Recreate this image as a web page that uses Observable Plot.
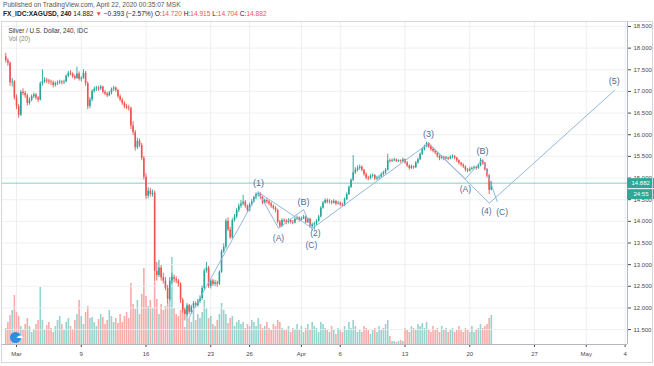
<!DOCTYPE html>
<html><head><meta charset="utf-8">
<script src="https://cdn.jsdelivr.net/npm/d3@7"></script>
<script src="https://cdn.jsdelivr.net/npm/@observablehq/plot@0.6"></script>
<style>
body{margin:0;width:654px;height:366px;overflow:hidden;background:#fff;font-family:"Liberation Sans",Arial,sans-serif;position:relative}
.hdr{position:absolute;left:3px;font-size:6.6px;white-space:nowrap}
#vol,#main{position:absolute;left:0;top:21px}
#box{position:absolute;left:1px;top:21px;width:650px;height:340px;border:1px solid #d4d6da;pointer-events:none}
</style></head>
<body>
<div class="hdr" style="top:1px;color:#555">Published on TradingView.com, April 22, 2020 00:35:07 MSK</div>
<div class="hdr" id="quote" style="top:10px;color:#222"></div>
<div id="vol"></div><div id="main"></div><div id="box"></div>
<script>
// ---- data ----
const candles = [ // [open, high, low, close], 4h bars
[17.80,17.88,17.66,17.71],[17.71,17.76,17.58,17.65],[17.65,17.68,17.12,17.20],[17.20,17.30,17.10,17.22],[17.22,17.25,16.80,16.85],
[16.85,16.92,16.58,16.65],[16.65,16.70,16.38,16.45],[16.45,17.02,16.42,16.98],[16.98,17.06,16.90,16.95],[16.95,17.00,16.84,16.90],
[16.90,16.94,16.66,16.72],[16.72,16.85,16.68,16.80],[16.80,16.92,16.76,16.88],[16.88,16.96,16.84,16.92],[16.92,16.95,16.80,16.85],
[16.85,16.88,16.74,16.80],[16.80,17.22,16.78,17.18],[17.18,17.50,17.12,17.22],[17.22,17.32,17.18,17.26],[17.26,17.30,17.18,17.24],
[17.24,17.28,17.16,17.22],[17.22,17.26,17.14,17.20],[17.20,17.24,17.08,17.14],[17.14,17.22,17.10,17.18],[17.18,17.24,17.14,17.20],
[17.20,17.26,17.16,17.22],[17.22,17.25,17.15,17.20],[17.20,17.26,17.16,17.22],[17.22,17.38,17.20,17.35],[17.35,17.46,17.32,17.42],
[17.42,17.48,17.36,17.40],[17.40,17.43,17.30,17.34],[17.34,17.38,17.26,17.30],[17.30,17.56,17.28,17.40],[17.40,17.45,17.24,17.28],
[17.28,17.34,17.22,17.30],[17.30,17.50,17.28,17.42],[17.42,17.46,17.12,17.18],[17.18,17.22,16.58,16.65],[16.65,16.86,16.60,16.80],
[16.80,17.04,16.76,17.00],[17.00,17.10,16.96,17.05],[17.05,17.12,17.00,17.08],[17.08,17.12,17.00,17.06],[17.06,17.14,17.02,17.10],
[17.10,17.12,16.94,16.98],[16.98,17.02,16.90,16.94],[16.94,16.98,16.86,16.90],[16.90,17.00,16.88,16.96],[16.96,17.08,16.92,17.05],
[17.05,17.12,17.00,17.08],[17.08,17.10,16.98,17.02],[17.02,17.05,16.84,16.88],[16.88,16.92,16.76,16.80],[16.80,16.84,16.68,16.72],
[16.72,16.76,16.60,16.65],[16.65,16.70,16.58,16.62],[16.62,16.68,16.55,16.60],[16.60,16.64,16.12,16.20],[16.20,16.30,15.98,16.05],
[16.05,16.10,15.62,15.70],[15.70,15.92,15.66,15.85],[15.85,15.90,15.70,15.75],[15.75,15.80,15.40,15.45],[15.45,15.50,14.95,15.02],
[15.02,15.10,14.50,14.58],[14.58,14.78,14.52,14.70],[14.70,14.76,14.56,14.62],[14.62,14.72,14.56,14.65],[14.65,14.70,12.60,12.85],
[12.85,13.05,12.62,12.75],[12.75,13.10,12.70,12.92],[12.92,12.98,12.62,12.70],[12.70,12.80,12.55,12.62],[12.62,12.70,12.40,12.45],
[12.45,12.52,12.10,12.20],[12.20,12.70,12.15,12.62],[12.62,12.80,12.55,12.70],[12.70,12.76,12.58,12.66],[12.66,12.72,12.56,12.62],
[12.62,12.66,12.48,12.55],[12.55,12.58,12.10,12.18],[12.18,12.22,11.88,11.95],[11.95,12.00,11.70,11.85],[11.85,12.10,11.80,12.05],
[12.05,12.08,11.84,11.90],[11.90,12.06,11.86,12.02],[12.02,12.15,11.98,12.10],[12.10,12.14,12.00,12.05],[12.05,12.20,12.02,12.15],
[12.15,12.28,12.10,12.22],[12.22,12.50,12.18,12.45],[12.45,12.90,12.40,12.85],[12.85,13.05,12.80,12.92],[12.92,12.96,12.45,12.50],
[12.50,12.66,12.44,12.62],[12.62,12.66,12.50,12.55],[12.55,12.64,12.50,12.58],[12.58,12.62,12.48,12.55],[12.55,12.86,12.52,12.82],
[12.82,13.34,12.80,13.30],[13.30,13.48,13.26,13.40],[13.40,14.05,13.36,14.00],[14.00,14.08,13.76,13.80],[13.80,13.86,13.58,13.62],
[13.62,14.06,13.60,14.02],[14.02,14.16,13.98,14.10],[14.10,14.30,14.06,14.25],[14.25,14.40,14.20,14.35],[14.35,14.48,14.30,14.40],
[14.40,14.60,14.36,14.44],[14.44,14.48,14.30,14.35],[14.35,14.38,14.20,14.25],[14.25,14.42,14.22,14.38],[14.38,14.50,14.34,14.45],
[14.45,14.58,14.42,14.55],[14.55,14.66,14.50,14.62],[14.62,14.68,14.56,14.64],[14.64,14.66,14.50,14.55],[14.55,14.58,14.38,14.42],
[14.42,14.52,14.40,14.48],[14.48,14.52,14.40,14.45],[14.45,14.48,14.36,14.40],[14.40,14.44,14.30,14.35],[14.35,14.38,14.26,14.30],
[14.30,14.34,14.20,14.25],[14.25,14.28,13.94,13.98],[13.98,14.02,13.84,13.88],[13.88,14.06,13.86,14.02],[14.02,14.06,13.96,14.00],
[14.00,14.04,13.92,13.97],[13.97,14.06,13.94,14.02],[14.02,14.05,13.94,13.98],[13.98,14.02,13.92,13.96],[13.96,14.08,13.94,14.05],
[14.05,14.12,14.02,14.08],[14.08,14.10,13.98,14.02],[14.02,14.10,14.00,14.06],[14.06,14.14,14.04,14.10],[14.10,14.12,13.94,13.97],
[13.97,14.08,13.95,14.05],[14.05,14.07,13.84,13.88],[13.88,13.96,13.84,13.92],[13.92,13.98,13.80,13.94],[13.94,14.04,13.90,14.00],
[14.00,14.14,13.98,14.10],[14.10,14.34,14.08,14.30],[14.30,14.46,14.28,14.42],[14.42,14.52,14.40,14.48],[14.48,14.52,14.40,14.44],
[14.44,14.50,14.40,14.45],[14.45,14.48,14.38,14.42],[14.42,14.50,14.40,14.46],[14.46,14.48,14.36,14.40],[14.40,14.46,14.38,14.42],
[14.42,14.45,14.34,14.38],[14.38,14.42,14.32,14.36],[14.36,14.54,14.34,14.50],[14.50,14.66,14.48,14.62],[14.62,14.82,14.60,14.78],
[14.78,14.98,14.76,14.95],[14.95,15.52,14.92,15.12],[15.12,15.24,15.08,15.18],[15.18,15.28,15.14,15.22],[15.22,15.30,15.18,15.25],
[15.25,15.28,15.14,15.18],[15.18,15.20,15.04,15.08],[15.08,15.12,14.96,15.00],[15.00,15.04,14.94,14.98],[14.98,15.08,14.96,15.04],
[15.04,15.10,15.00,15.06],[15.06,15.08,14.94,14.98],[14.98,15.04,14.94,15.00],[15.00,15.06,14.96,15.02],[15.02,15.12,15.00,15.08],
[15.08,15.16,15.04,15.12],[15.12,15.22,15.08,15.18],[15.18,15.55,15.16,15.40],[15.40,15.44,15.34,15.38],[15.38,15.44,15.36,15.40],
[15.40,15.46,15.38,15.42],[15.42,15.44,15.36,15.38],[15.38,15.42,15.36,15.40],[15.40,15.42,15.34,15.38],[15.38,15.46,15.36,15.42],
[15.42,15.44,15.32,15.35],[15.35,15.38,15.24,15.28],[15.28,15.30,15.18,15.22],[15.22,15.30,15.20,15.26],[15.26,15.28,15.20,15.24],
[15.24,15.38,15.22,15.35],[15.35,15.46,15.32,15.42],[15.42,15.58,15.40,15.55],[15.55,15.70,15.52,15.66],[15.66,15.76,15.62,15.72],
[15.72,15.83,15.70,15.80],[15.80,15.82,15.68,15.72],[15.72,15.76,15.62,15.66],[15.66,15.70,15.58,15.62],[15.62,15.65,15.54,15.58],
[15.58,15.60,15.46,15.50],[15.50,15.54,15.40,15.45],[15.45,15.52,15.42,15.48],[15.48,15.50,15.40,15.44],[15.44,15.50,15.42,15.46],
[15.46,15.48,15.40,15.44],[15.44,15.52,15.42,15.48],[15.48,15.54,15.44,15.50],[15.50,15.52,15.42,15.46],[15.46,15.48,15.36,15.40],
[15.40,15.42,15.30,15.34],[15.34,15.36,15.26,15.30],[15.30,15.33,15.22,15.26],[15.26,15.28,15.14,15.18],[15.18,15.22,15.12,15.16],
[15.16,15.24,15.14,15.20],[15.20,15.26,15.18,15.22],[15.22,15.28,15.20,15.24],[15.24,15.26,15.18,15.22],[15.22,15.32,15.20,15.28],
[15.28,15.45,15.26,15.40],[15.40,15.42,15.30,15.34],[15.34,15.36,15.16,15.20],[15.20,15.22,15.00,15.05],[15.05,15.08,14.62,14.72],
[14.720,14.915,14.704,14.882]
];
const volumes = [
16,22,29,34,49,32,28,18,14,20, 26,18,12,15,20,24,57,24,14,19,
22,16,12,18,24,28,20,14,22,26, 18,15,24,30,44,28,20,32,38,26,
27,22,18,25,30,27,20,24,34,28, 22,26,21,30,22,28,32,26,61,40,
35,44,30,50,76,48,38,44,36,62, 45,30,40,34,38,42,47,87,36,30,
28,34,40,17,30,26,22,34,24,30, 26,32,44,36,26,28,20,18,24,30,
41,34,30,21,26,28,18,22,24,20, 22,16,20,18,24,22,18,26,20,16,
18,22,16,14,20,18,24,22,16,14, 14,18,12,16,14,20,14,18,12,16,
20,14,22,18,16,12,22,20,16,14, 12,18,14,10,16,14,12,18,14,22,
16,24,18,12,14,12,18,16,14,10, 14,16,12,18,14,16,20,24,8,3,
3,2,3,4,3,16,14,12,18,16, 14,20,18,21,16,22,14,12,18,14,
16,12,18,14,16,12,14,16,12,14, 18,14,12,16,14,12,18,12,14,16,
20,16,18,20,26,29
];
const xTickPos = [5,35,65,95,113,137,155,185,215,245,269,287];
const xTickLabels = ["Mar","9","16","23","26","Apr","6","13","20","27","May","4"];
const priceTicks = [11.5,12,12.5,13,13.5,14,14.5,15,15.5,16,16.5,17,17.5,18,18.5];
// Elliott waves: [bar index, price, label]
const impulse = [[85,11.78,""],[117.1,14.67,"(1)"],[142.1,13.84,"(2)"],[195.9,15.80,"(3)"],[224.1,14.42,"(4)"],[282,17.02,"(5)"]];
const abc1 = [[117.1,14.67,""],[126.4,13.84,"(A)"],[138.0,14.27,"(B)"],[142.1,13.80,"(C)"]];
const abc2 = [[195.9,15.80,""],[213.0,14.98,"(A)"],[220.9,15.43,"(B)"],[227.7,14.46,"(C)"]];
const impulseUp = ["(1)","(3)","(5)"];
const abcUp = ["(B)"];
const lastClose = 14.882;
const countdown = "24:55";
const change = "−0.393 (−2.57%)";
const title = "Silver / U.S. Dollar, 240, IDC";
const volTitle = "Vol (20)";

// ---- layout ----
const W = 654, H = 345, mL = 2, mR = 27, mT = 1, mB = 22;
const xDomain = [-1.5, 288.1];
const yDomain = [11.156, 18.592];
const volDomain = [0, 322];
const UP = "#26a69a", DOWN = "#ef5350", UPV = "#93d4cc", DOWNV = "#f7aaa8";
const WAVE = "#92b6dd", WAVETXT = "#4c6c97", GRID = "#eceef2", AXIS = "#b4b7bd";
const isUp = c => c[3] >= c[0];
const labelMap = new Map(xTickPos.map((p, i) => [p, xTickLabels[i]]));
const pxPerBar = (W - mL - mR) / (xDomain[1] - xDomain[0]);
const badgeEnd = xDomain[1] + 27 / pxPerBar;

// header quote line
const last = candles[candles.length - 1];
const f3 = d3.format(".3f");
document.getElementById("quote").innerHTML =
  `<b>FX_IDC:XAGUSD, 240</b> ${f3(last[3])} <span style="color:${DOWN}">▼</span> ${change} ` +
  `O:<span style="color:${DOWN}">${f3(last[0])}</span> H:<span style="color:${DOWN}">${f3(last[1])}</span> ` +
  `L:<span style="color:${DOWN}">${f3(last[2])}</span> C:<span style="color:${DOWN}">${f3(last[3])}</span>`;

const font = "Liberation Sans, Arial, sans-serif";

// volume layer (bottom)
const vol = Plot.plot({
  width: W, height: H, marginLeft: mL, marginRight: mR, marginTop: mT, marginBottom: mB,
  style: {background: "white", fontFamily: font},
  x: {domain: xDomain, axis: null},
  y: {domain: volDomain, axis: null},
  marks: [
    Plot.ruleX(xTickPos, {stroke: GRID, strokeWidth: 1}),
    Plot.ruleX(volumes, {x: (d, i) => i, y1: 0, y2: d => d,
      stroke: (d, i) => isUp(candles[i]) ? UPV : DOWNV, strokeWidth: 1.6})
  ]
});
document.getElementById("vol").appendChild(vol);

const pick = (arr, names) => arr.filter(d => names.includes(d[2]));
const abcAll = [...abc1, ...abc2];
const lbl = (data, opts) => Plot.text(data, {x: d => d[0], y: d => d[1], text: d => d[2], fill: WAVETXT, fontSize: 8.5, ...opts});

// price layer (top)
const main = Plot.plot({
  width: W, height: H, marginLeft: mL, marginRight: mR, marginTop: mT, marginBottom: mB,
  style: {background: "transparent", fontFamily: font, fontSize: "6px", color: "#4a4a4a", overflow: "visible"},
  x: {domain: xDomain, ticks: xTickPos, tickFormat: d => labelMap.get(d), tickSize: 3, tickPadding: 4, label: null},
  y: {domain: yDomain, axis: "right", ticks: priceTicks, tickFormat: d3.format(".3f"), tickSize: 3, tickPadding: 3, label: null},
  marks: [
    Plot.ruleY(priceTicks, {stroke: GRID, strokeWidth: 1, strokeOpacity: 0.9}),
    Plot.ruleY([lastClose], {stroke: "#62c0b5", strokeWidth: 0.8}),
    // candles
    Plot.ruleX(candles, {x: (d, i) => i, y1: d => d[2], y2: d => d[1], stroke: d => isUp(d) ? UP : DOWN, strokeWidth: 0.9}),
    Plot.ruleX(candles, {x: (d, i) => i, y1: d => d[0], y2: d => d[3], stroke: d => isUp(d) ? UP : DOWN, strokeWidth: 1.6}),
    // waves
    Plot.line(impulse, {x: d => d[0], y: d => d[1], stroke: WAVE, strokeWidth: 1}),
    Plot.line(abc1, {x: d => d[0], y: d => d[1], stroke: WAVE, strokeWidth: 1}),
    Plot.line(abc2, {x: d => d[0], y: d => d[1], stroke: WAVE, strokeWidth: 1}),
    lbl(pick(impulse, ["(1)","(3)","(5)"]), {dy: -9, fontSize: 9}),
    lbl(pick(impulse, ["(2)"]), {dy: 5, dx: 3}),
    lbl(pick(impulse, ["(4)"]), {dy: 8, dx: -3}),
    lbl(pick(abcAll, ["(B)"]), {dy: -8, fontSize: 9}),
    lbl(pick(abcAll, ["(A)"]), {dy: 10}),
    lbl([abc1[3]], {dy: 15, dx: -1}),
    lbl([abc2[3]], {dy: 11, dx: 5}),
    // axis lines
    Plot.ruleX([xDomain[1]], {stroke: AXIS, strokeWidth: 1}),
    Plot.ruleY([yDomain[0]], {stroke: AXIS, strokeWidth: 1}),
    // price badges
    Plot.ruleY([lastClose], {x1: () => xDomain[1], x2: () => badgeEnd, stroke: "#2fa898", strokeWidth: 10}),
    Plot.ruleY([lastClose], {x1: () => xDomain[1], x2: () => badgeEnd, stroke: "#2fa898", strokeWidth: 10, dy: 11}),
    Plot.text([lastClose], {x: () => xDomain[1], y: d => d, text: d => f3(d), dx: 4, textAnchor: "start", fill: "white", fontSize: 6}),
    Plot.text([lastClose], {x: () => xDomain[1], y: d => d, text: () => countdown, dx: 6, dy: 11, textAnchor: "start", fill: "white", fontSize: 6}),
    // pane titles
    Plot.text([title], {frameAnchor: "top-left", dx: 6, dy: 8, lineAnchor: "middle", textAnchor: "start", fill: "#333", fontSize: 6.3}),
    Plot.text([volTitle], {frameAnchor: "top-left", dx: 6, dy: 16, lineAnchor: "middle", textAnchor: "start", fill: "#888", fontSize: 6.3}),
    Plot.dot([0], {frameAnchor: "bottom-left", dx: 13, dy: -7, r: 5.5, fill: "#2f8de4"}),
    Plot.text(["☁"], {frameAnchor: "bottom-left", dx: 13, dy: -7, fill: "white", fontSize: 7})
  ]
});
document.getElementById("main").appendChild(main);
</script>
</body></html>
